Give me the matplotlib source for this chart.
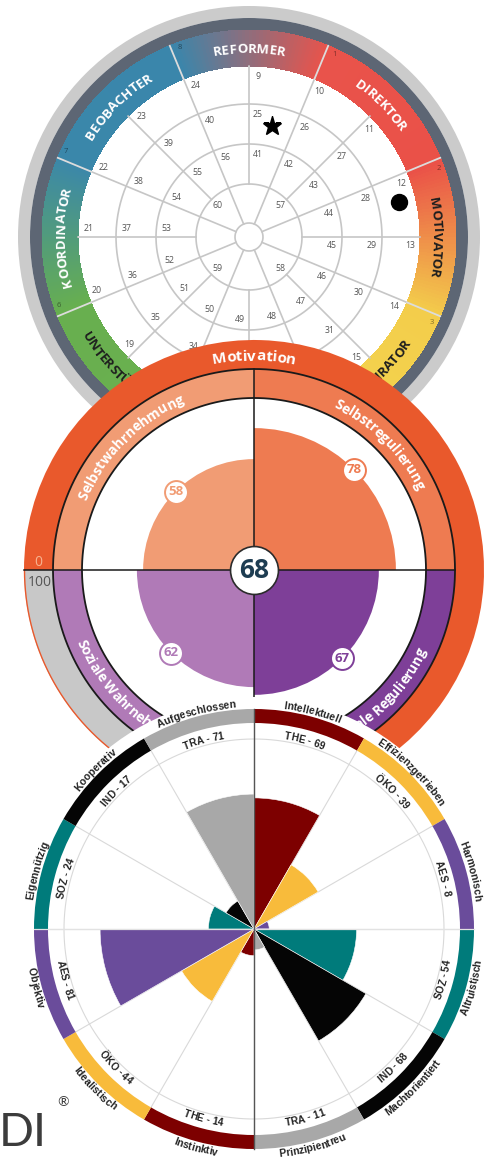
"""Drei überlagerte Kreisdiagramme: Typen-Rad, EQ-Quadranten und Antreiber-Rose."""

import matplotlib

matplotlib.use("Agg")

import matplotlib.pyplot as plt
import numpy as np
from matplotlib.colors import to_rgb
from matplotlib.font_manager import FontProperties
from matplotlib.textpath import TextToPath

W, H = 488, 1163
PX = 100 / 72  # Pixel pro Punkt

# ---- Rad oben: Typen ----
wheel_types = ["REFORMER", "DIREKTOR", "MOTIVATOR", "INSPIRATOR", "",
               "UNTERSTÜTZER", "KOORDINATOR", "BEOBACHTER"]
wheel_type_no = ["8", "1", "2", "3", "4", "5", "6", "7"]
wheel_type_angle = [90, 45, 0, -45, -90, -135, -180, -225]
wheel_type_ink = ["white", "white", "#1e1e1e", "#1e1e1e", "#1e1e1e", "#1e1e1e", "white", "white"]
wheel_numbers = [
    [9, 10, 11, 12, 13, 14, 15, 16, 17, 18, 19, 20, 21, 22, 23, 24],
    [25, 26, 27, 28, 29, 30, 31, 32, 33, 34, 35, 36, 37, 38, 39, 40],
    [41, 42, 43, 44, 45, 46, 47, 48, 49, 50, 51, 52, 53, 54, 55, 56],
]
wheel_core = [57, 58, 59, 60]
marker_kind = ["*", "o"]
marker_angle = [78, 13]
marker_radius = [113, 154]

# Farbverlauf des Typenrings (Winkel im Uhrzeigersinn ab 112.5°)
stop_angles = [112.5, 67.5, 22.5, -22.5, -67.5, -112.5, -157.5, -202.5, -247.5]
stop_colors = ["#3a86ab", "#e9534b", "#ea5148", "#f3cd4b", "#f3d54e",
               "#6ab04f", "#68af4f", "#3a87aa", "#3a86ab"]

# ---- Mitte: EQ ----
eq_total = 68
eq_scale = "Motivation"
eq_names = ["Selbstwahrnehmung", "Selbstregulierung", "Soziale Wahrnehmung", "Soziale Regulierung"]
eq_values = [58, 78, 62, 67]
eq_angle = [135, 45, 225, 315]
eq_colors = ["#f19c74", "#ee7b51", "#b07ab7", "#7e3f98"]

# ---- Unten: Antreiber ----
drv_codes = ["THE", "ÖKO", "AES", "SOZ", "IND", "TRA", "THE", "ÖKO", "AES", "SOZ", "IND", "TRA"]
drv_values = [69, 39, 8, 54, 68, 11, 14, 44, 81, 24, 17, 71]
drv_names = ["Intellektuell", "Effizienzgetrieben", "Harmonisch", "Altruistisch",
             "Machtorientiert", "Prinzipientreu", "Instinktiv", "Idealistisch",
             "Objektiv", "Eigennützig", "Kooperativ", "Aufgeschlossen"]
drv_palette = {"THE": "#7d0000", "ÖKO": "#f8bb3b", "AES": "#6a4c9b",
               "SOZ": "#007b7b", "IND": "#050505", "TRA": "#a8a8a8"}

t2p = TextToPath()


def char_width(ch, fp):
    """Vorschub eines Zeichens in Pixeln."""
    w1 = t2p.get_text_width_height_descent("x" + ch + "x", fp, ismath=False)[0]
    w0 = t2p.get_text_width_height_descent("xx", fp, ismath=False)[0]
    return (w1 - w0) * PX


def arc_text(ax, text, angle, radius, size, color, family="Open Sans", weight="bold", zorder=6):
    """Text entlang eines Kreisbogens, Mitte bei angle (Grad)."""
    fp = FontProperties(family=family, weight=weight, size=size)
    widths = [char_width(c, fp) for c in text]
    upper = np.sin(np.radians(angle)) > -1e-6
    step = -1 if upper else 1
    cap = 0.72 * size * PX
    r_base = radius - cap / 2 if upper else radius + cap / 2
    a = np.radians(angle) - step * sum(widths) / 2 / r_base
    for ch, w in zip(text, widths):
        a_c = a + step * (w / 2) / r_base
        rot = np.degrees(a_c) - 90 if upper else np.degrees(a_c) + 90
        ax.text(a_c, r_base, ch, rotation=rot, rotation_mode="anchor", ha="center",
                va="baseline", fontproperties=fp, color=color, zorder=zorder)
        a += step * w / r_base


def polar_axes(fig, cx, cy, radius, face="none"):
    ax = fig.add_axes([(cx - radius) / W, (H - cy - radius) / H, 2 * radius / W, 2 * radius / H],
                      projection="polar")
    ax.set_ylim(0, radius)
    ax.set_xticks([])
    ax.set_yticks([])
    ax.grid(False)
    ax.spines["polar"].set_visible(False)
    ax.set_facecolor(face)
    return ax


def circle(ax, r, color, lw, a0=0, a1=360, zorder=3):
    t = np.radians(np.linspace(a0, a1, 400))
    ax.plot(t, np.full_like(t, r), color=color, lw=lw, zorder=zorder, solid_capstyle="butt")


fig = plt.figure(figsize=(W / 100, H / 100), dpi=100)
fig.patch.set_facecolor("white")

# ================= Rad =================
ax1 = polar_axes(fig, 249, 237, 232)
ax1.bar(0, 12, width=2 * np.pi, bottom=219, color="#cbcbcb", lw=0)
ax1.bar(0, 12, width=2 * np.pi, bottom=207, color="#5d6674", lw=0)
ax1.bar(0, 171, width=2 * np.pi, bottom=0, color="white", lw=0)

inc_a = np.array(stop_angles[::-1])
inc_c = np.array([to_rgb(c) for c in stop_colors[::-1]])


def ring_color(a):
    return np.column_stack([np.interp(a, inc_a, inc_c[:, i]) for i in range(3)])


steps = np.arange(-247.5, 112.5, 1.0) + 0.5
cols = ring_color(steps)
ax1.bar(np.radians(steps), 36, width=np.radians(1.6), bottom=171, color=cols,
        lw=0, zorder=2, antialiased=False)

grid_c = "#c6c6c6"
for r in [14, 53, 93, 133]:
    circle(ax1, r, grid_c, 1.2)
for k in range(16):
    a = np.radians(k * 22.5)
    r0 = 14 if k % 2 else 53
    ax1.plot([a, a], [r0, 171], color=grid_c, lw=1.2, zorder=3)

for name, no, ang, ink in zip(wheel_types, wheel_type_no, wheel_type_angle, wheel_type_ink):
    b = ang + 22.5
    ax1.plot([np.radians(b)] * 2, [171, 207], color="#dcdcdc", lw=1.3, zorder=4)
    dark = tuple(0.55 * np.array(ring_color(np.array([b - 2.5]))[0]))
    ax1.text(np.radians(b - 2.6), 202, no, fontsize=5.5, color=dark, ha="center",
             va="center", family="Open Sans", zorder=5)
    if name:
        arc_text(ax1, name, ang, 189, 9.5, ink)

for ring_r, nums in zip([171, 133, 93], wheel_numbers):
    rl = ring_r - 10
    for k, n in enumerate(nums):
        a = 90 - 22.5 * k - np.degrees(9 / rl)
        ax1.text(np.radians(a), rl, str(n), fontsize=6.3, color="#555555", ha="center",
                 va="center", family="Open Sans", zorder=5)
for k, n in enumerate(wheel_core):
    ax1.text(np.radians(45 - 90 * k), 45, str(n), fontsize=6.3, color="#555555",
             ha="center", va="center", family="Open Sans", zorder=5)

for mk, ang, r in zip(marker_kind, marker_angle, marker_radius):
    ax1.plot(np.radians(ang), r, marker=mk, ms=14 if mk == "*" else 11.5, color="black",
             lw=0, zorder=6)

# ================= EQ =================
ax2 = polar_axes(fig, 254, 570, 232)
orange = "#e9592c"
span = eq_total / 100 * 360
ax2.bar(np.radians(180 - span), 29, width=np.radians(span), bottom=201, align="edge",
        color=orange, lw=0, zorder=1)
ax2.bar(np.radians(180), 29, width=np.radians(360 - span), bottom=201, align="edge",
        color="#c8c8c8", lw=0, zorder=1)
circle(ax2, 229.5, orange, 1.0, 180, 540 - span)
ax2.bar(0, 172, width=2 * np.pi, bottom=0, color="white", lw=0, zorder=1)

r_min, r_max = 21, 176
for name, v, ang, col in zip(eq_names, eq_values, eq_angle, eq_colors):
    ax2.bar(np.radians(ang - 45), 29, width=np.pi / 2, bottom=172, align="edge",
            color=col, lw=0, zorder=2)
    rv = r_min + (r_max - r_min) * v / 100
    ax2.bar(np.radians(ang - 45), rv, width=np.pi / 2, bottom=0, align="edge",
            color=col, lw=0, zorder=2)
    arc_text(ax2, name, ang, 186, 10, "white")

for r in [172, 201]:
    circle(ax2, r, "#1a1a1a", 1.3, zorder=4)
ax2.plot([np.pi, np.pi], [0, 230], color="#1a1a1a", lw=1.1, zorder=4)
ax2.plot([0, 0], [0, 201], color="#1a1a1a", lw=1.1, zorder=4)
ax2.plot([np.pi / 2] * 2, [0, 201], color="#1a1a1a", lw=1.1, zorder=4)
ax2.plot([3 * np.pi / 2] * 2, [0, 201], color="#1a1a1a", lw=1.1, zorder=4)

for v, ang, col in zip(eq_values, eq_angle, eq_colors):
    rv = r_min + (r_max - r_min) * v / 100
    ax2.plot(np.radians(ang), rv, marker="o", ms=16.5, mfc="white", mec=col, mew=1.4,
             zorder=5)
    ax2.text(np.radians(ang), rv, str(v), fontsize=9.5, color=col, weight="bold",
             ha="center", va="center", family="Open Sans", zorder=6)

ax2.plot(0, 0, marker="o", ms=34.5, mfc="white", mec="#2b2b2b", mew=1.2, zorder=5)
ax2.text(0, 0, str(eq_total), fontsize=19, weight="bold", color="#1e3d52",
         ha="center", va="center", family="Open Sans", zorder=6)
arc_text(ax2, eq_scale, 90, 215, 11, "white")
ax2.text(np.radians(177.9), 216, "0", fontsize=10, color="#f7b391", ha="center",
         va="center", family="Open Sans", zorder=6)
ax2.text(np.radians(183.2), 215, "100", fontsize=10, color="#555555", ha="center",
         va="center", family="Open Sans", zorder=6)

# ================= Antreiber =================
ax3 = polar_axes(fig, 254, 929, 232, face="white")
light = "#d9d9d9"
circle(ax3, 190, light, 0.8, zorder=1)
for k in range(12):
    a = np.radians(30 * k)
    ax3.plot([a, a], [0, 206], color=light, lw=0.8, zorder=1)

for k, (code, v, name) in enumerate(zip(drv_codes, drv_values, drv_names)):
    col = drv_palette[code]
    start = np.radians(60 - 30 * k)
    ax3.bar(start, v / 100 * 190, width=np.radians(30), bottom=0, align="edge",
            color=col, edgecolor="white", lw=0.4, zorder=2)
    ax3.bar(start, 14, width=np.radians(30), bottom=206, align="edge",
            color=col, lw=0, zorder=2)
    mid = 75 - 30 * k
    arc_text(ax3, f"{code} - {v}", mid, 196, 7.3, "#222222",
             family="Liberation Sans", weight="bold")
    arc_text(ax3, name, mid, 226, 7.5, "#222222", family="Liberation Sans", weight="bold")

ax3.plot([0, 0], [0, 220], color="#e2e2e2", lw=0.9, zorder=3)
ax3.plot([np.pi, np.pi], [0, 220], color="#e2e2e2", lw=0.9, zorder=3)
ax3.plot([np.pi / 2] * 2, [0, 220], color="#555555", lw=1.0, zorder=3)
ax3.plot([3 * np.pi / 2] * 2, [0, 220], color="#555555", lw=1.0, zorder=3)

fig.text(-1 / W, 1 - 1146 / H, "DI", fontsize=33, family="Lato", weight="normal",
         color="#3c3c3c", ha="left", va="baseline")
fig.text(57 / W, 1 - 1102 / H, "®", fontsize=10, family="Lato", color="#3c3c3c",
         ha="left", va="center")

fig.savefig("out.png", dpi=100, facecolor="white")
